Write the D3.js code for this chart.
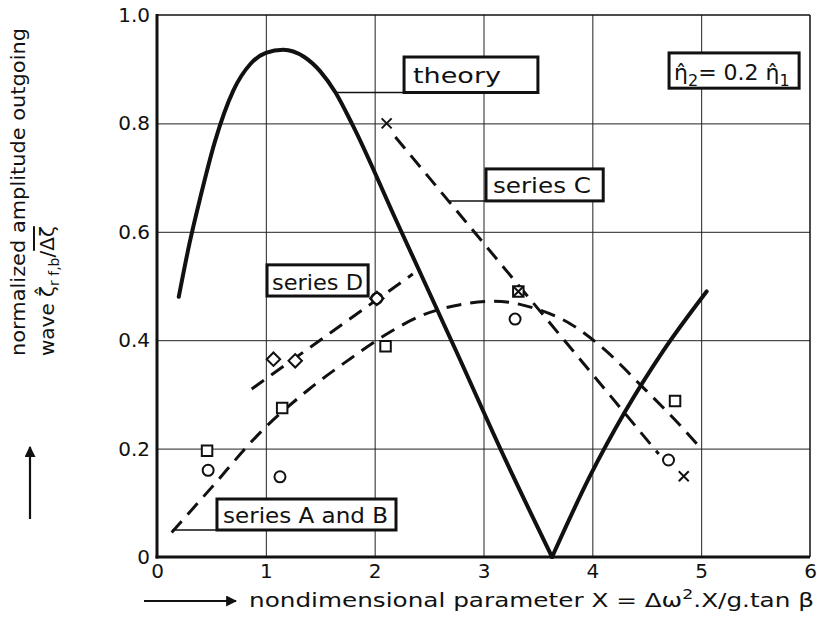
<!DOCTYPE html>
<html>
<head>
<meta charset="utf-8">
<script src="https://cdn.jsdelivr.net/npm/d3@7"></script>
<style>
  body { margin: 0; background: #fff; }
  text { font-family: "DejaVu Sans", sans-serif; fill: #111; }
</style>
</head>
<body>
<svg id="chart" width="817" height="623"></svg>
<script>
// Axis ticks and their labels
const xTicks = [0, 1, 2, 3, 4, 5, 6];
const xTickLabels = ["0", "1", "2", "3", "4", "5", "6"];
const yTicks = [0, 0.2, 0.4, 0.6, 0.8, 1.0];
const yTickLabels = ["0", "0.2", "0.4", "0.6", "0.8", "1.0"];

// Theory curve: falling branch (through the maximum down to zero) and rising branch
const theoryFalling = [
  [0.2, 0.48], [0.3, 0.58], [0.4, 0.665], [0.53, 0.765], [0.7, 0.86], [0.86, 0.91],
  [1.0, 0.93], [1.16, 0.936], [1.35, 0.923], [1.5, 0.896], [1.64, 0.857], [1.79, 0.80],
  [2.2, 0.62], [2.76, 0.375], [3.2, 0.18], [3.63, 0.0]
];
const theoryRising = [[3.63, 0.0], [3.98, 0.15], [4.3, 0.268], [4.65, 0.38], [5.05, 0.49]];

// Fitted dashed lines
const fitAB = [
  [0.135, 0.045], [0.5, 0.128], [0.95, 0.23], [1.4, 0.31], [1.77, 0.365],
  [2.1, 0.41], [2.45, 0.447], [2.8, 0.466], [3.1, 0.472], [3.45, 0.46],
  [3.8, 0.43], [4.1, 0.385], [4.44, 0.318], [4.75, 0.255], [5.0, 0.2]
];
const fitC = [[2.19, 0.775], [4.61, 0.19]];
const fitD = [[0.87, 0.31], [2.35, 0.522]];

// Measured points
const squarePoints = [[0.46, 0.196], [1.15, 0.275], [2.1, 0.389], [3.32, 0.49], [4.76, 0.288]];
const circlePoints = [[0.47, 0.16], [1.13, 0.148], [2.02, 0.477], [3.29, 0.439], [4.70, 0.179]];
const diamondPoints = [[1.07, 0.365], [1.27, 0.362], [2.02, 0.477]];
const crossPoints = [[2.11, 0.80], [3.32, 0.49], [4.84, 0.149]];

const svg = d3.select("#chart");
const plotLeft = 157, plotRight = 810, plotTop = 15, plotBottom = 557;
const x = d3.scaleLinear().domain([0, 6]).range([plotLeft, plotRight]);
const y = d3.scaleLinear().domain([0, 1]).range([plotBottom, plotTop]);

// Grid
const grid = svg.append("g");
grid.append("g")
  .attr("transform", `translate(0,${plotBottom})`)
  .call(d3.axisBottom(x).tickValues(xTicks.slice(1, -1)).tickSize(-(plotBottom - plotTop)).tickFormat(""))
  .call(g => g.select(".domain").remove())
  .call(g => g.selectAll("line").attr("stroke", "#222").attr("stroke-width", 1));
grid.append("g")
  .attr("transform", `translate(${plotLeft},0)`)
  .call(d3.axisLeft(y).tickValues(yTicks.slice(1, -1)).tickSize(-(plotRight - plotLeft)).tickFormat(""))
  .call(g => g.select(".domain").remove())
  .call(g => g.selectAll("line").attr("stroke", "#222").attr("stroke-width", 1));

// Frame
const frame = svg.append("g").attr("stroke", "#111").attr("fill", "none");
frame.append("line").attr("x1", plotLeft).attr("x2", plotRight).attr("y1", plotTop).attr("y2", plotTop).attr("stroke-width", 1.5);
frame.append("line").attr("x1", plotRight).attr("x2", plotRight).attr("y1", plotTop).attr("y2", plotBottom).attr("stroke-width", 1.5);
frame.append("line").attr("x1", plotLeft).attr("x2", plotLeft).attr("y1", plotTop - 1).attr("y2", plotBottom + 1.5).attr("stroke-width", 3);
frame.append("line").attr("x1", plotLeft - 1.5).attr("x2", plotRight).attr("y1", plotBottom).attr("y2", plotBottom).attr("stroke-width", 3);

// Tick labels
svg.append("g")
  .attr("transform", `translate(0,${plotBottom})`)
  .call(d3.axisBottom(x).tickValues(xTicks).tickSize(0).tickPadding(7)
    .tickFormat((d, i) => xTickLabels[i]))
  .call(g => g.select(".domain").remove())
  .call(g => g.selectAll("text").attr("font-size", 20).attr("font-family", "DejaVu Sans").attr("fill", "#111"));
svg.append("g")
  .attr("transform", `translate(${plotLeft},0)`)
  .call(d3.axisLeft(y).tickValues(yTicks).tickSize(0).tickPadding(7)
    .tickFormat((d, i) => yTickLabels[i]))
  .call(g => g.select(".domain").remove())
  .call(g => g.selectAll("text").attr("font-size", 20).attr("font-family", "DejaVu Sans").attr("fill", "#111"));

// Curves
const smooth = d3.line().x(d => x(d[0])).y(d => y(d[1])).curve(d3.curveMonotoneX);
const straight = d3.line().x(d => x(d[0])).y(d => y(d[1]));
const curves = svg.append("g").attr("fill", "none").attr("stroke", "#111").attr("stroke-linecap", "round");
curves.append("path").attr("d", smooth(theoryFalling)).attr("stroke-width", 4);
curves.append("path").attr("d", smooth(theoryRising)).attr("stroke-width", 4);
curves.append("path").attr("d", smooth(fitAB)).attr("stroke-width", 3).attr("stroke-dasharray", "15,9").attr("stroke-linecap", "butt");
curves.append("path").attr("d", straight(fitC)).attr("stroke-width", 3).attr("stroke-dasharray", "15,9").attr("stroke-linecap", "butt");
curves.append("path").attr("d", straight(fitD)).attr("stroke-width", 3).attr("stroke-dasharray", "15,9").attr("stroke-linecap", "butt");

// Leader lines from curves to their labels
const leaders = [
  [[1.64, 0.857], [2.27, 0.857]],
  [[2.67, 0.657], [3.023, 0.657]],
  [[0.14, 0.05], [0.551, 0.05]]
];
svg.append("g").selectAll("path").data(leaders).join("path")
  .attr("d", d => straight(d)).attr("stroke", "#111").attr("stroke-width", 1.5).attr("fill", "none");

// Label boxes
const boxes = [
  { x0: 2.27, x1: 3.50, y0: 0.9225, y1: 0.857, tx: 413, ty: 83, len: 88, size: 22, text: "theory" },
  { x0: 3.023, x1: 4.10, y0: 0.716, y1: 0.657, tx: 493, ty: 193, len: 98, size: 21, text: "series C" },
  { x0: 1.011, x1: 1.94, y0: 0.539, y1: 0.4815, tx: 272, ty: 290, len: 91, size: 21, text: "series D" },
  { x0: 0.551, x1: 2.196, y0: 0.107, y1: 0.0498, tx: 223, ty: 523, len: 165, size: 21, text: "series A and B" }
];
const bg = svg.append("g");
boxes.forEach(b => {
  bg.append("rect")
    .attr("x", x(b.x0)).attr("y", y(b.y0))
    .attr("width", x(b.x1) - x(b.x0)).attr("height", y(b.y1) - y(b.y0))
    .attr("fill", "#fff").attr("stroke", "#111").attr("stroke-width", 3);
  bg.append("text").attr("x", b.tx).attr("y", b.ty).attr("font-size", b.size)
    .attr("textLength", b.len).attr("lengthAdjust", "spacingAndGlyphs").text(b.text);
});

// Parameter box
bg.append("rect")
  .attr("x", x(4.705)).attr("y", y(0.93))
  .attr("width", x(5.90) - x(4.705)).attr("height", y(0.865) - y(0.93))
  .attr("fill", "#fff").attr("stroke", "#111").attr("stroke-width", 3);
const eta = bg.append("text").attr("x", 674).attr("y", 80).attr("font-size", 22);
eta.append("tspan").text("\u03B7\u0302");
eta.append("tspan").attr("dy", 6).attr("font-size", 16).text("2");
eta.append("tspan").attr("dy", -6).text("= 0.2 \u03B7\u0302");
eta.append("tspan").attr("dy", 6).attr("font-size", 16).text("1");

// Markers
const crossType = {
  draw(ctx, size) {
    const r = Math.sqrt(size) / 2;
    ctx.moveTo(-r, -r); ctx.lineTo(r, r);
    ctx.moveTo(r, -r); ctx.lineTo(-r, r);
  }
};
const marks = svg.append("g").attr("stroke", "#111").attr("stroke-width", 2);
marks.selectAll(".sq").data(squarePoints).join("path")
  .attr("transform", d => `translate(${x(d[0])},${y(d[1])})`)
  .attr("d", d3.symbol(d3.symbolSquare, 110)).attr("fill", "#fff");
marks.selectAll(".dm").data(diamondPoints).join("path")
  .attr("transform", d => `translate(${x(d[0])},${y(d[1])}) rotate(45)`)
  .attr("d", d3.symbol(d3.symbolSquare, 90)).attr("fill", "#fff");
marks.selectAll(".ci").data(circlePoints).join("path")
  .attr("transform", d => `translate(${x(d[0])},${y(d[1])})`)
  .attr("d", d3.symbol(d3.symbolCircle, 95)).attr("fill", "none");
marks.selectAll(".cr").data(crossPoints).join("path")
  .attr("transform", d => `translate(${x(d[0])},${y(d[1])})`)
  .attr("d", d3.symbol(crossType, 100)).attr("fill", "none");

// Axis titles
const defs = svg.append("defs");
defs.append("marker").attr("id", "head").attr("viewBox", "0 0 10 10")
  .attr("refX", 9).attr("refY", 5).attr("markerWidth", 5).attr("markerHeight", 5)
  .attr("orient", "auto").attr("markerUnits", "strokeWidth")
  .append("path").attr("d", "M0,0 L10,5 L0,10 Z").attr("fill", "#111");

svg.append("line").attr("x1", 144).attr("x2", 236).attr("y1", 601).attr("y2", 601)
  .attr("stroke", "#111").attr("stroke-width", 2.2).attr("marker-end", "url(#head)");
const xt = svg.append("text").attr("x", 249).attr("y", 607).attr("font-size", 20)
  .attr("textLength", 565).attr("lengthAdjust", "spacingAndGlyphs");
xt.append("tspan").text("nondimensional  parameter  \u03A7 = \u0394\u03C9");
xt.append("tspan").attr("dy", -8).attr("font-size", 14).text("2");
xt.append("tspan").attr("dy", 8).text(".X/g.tan \u03B2");

svg.append("line").attr("x1", 30).attr("x2", 30).attr("y1", 519).attr("y2", 447)
  .attr("stroke", "#111").attr("stroke-width", 2.2).attr("marker-end", "url(#head)");
svg.append("text").attr("transform", "translate(25,356) rotate(-90)").attr("font-size", 20)
  .attr("textLength", 328).attr("lengthAdjust", "spacingAndGlyphs")
  .text("normalized amplitude outgoing");
const yl2 = svg.append("text").attr("transform", "translate(54,356) rotate(-90)").attr("font-size", 20);
yl2.append("tspan").text("wave   \u03B6\u0302");
yl2.append("tspan").attr("dy", 5).attr("font-size", 14).text("r f,b");
yl2.append("tspan").attr("dy", -5).text("/");
yl2.append("tspan").attr("text-decoration", "overline").text("\u0394\u03B6");
</script>
</body>
</html>
